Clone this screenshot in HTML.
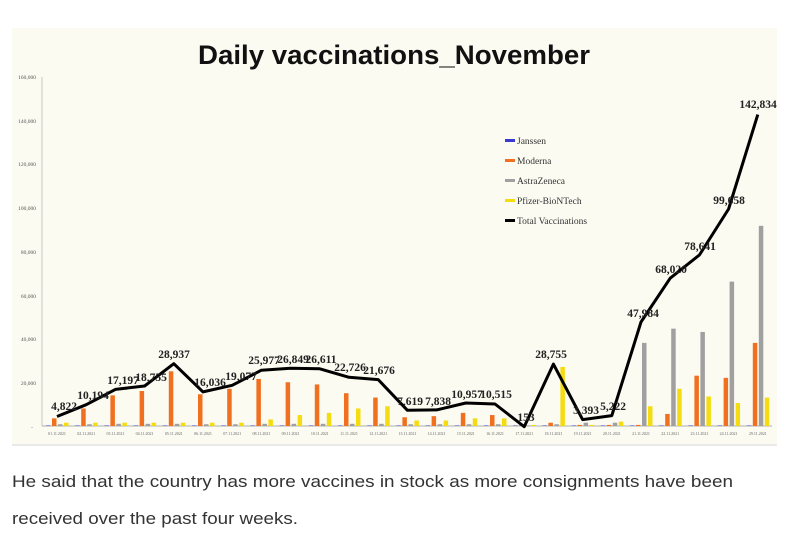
<!DOCTYPE html>
<html><head><meta charset="utf-8"><style>
html,body{margin:0;padding:0;background:#fff;width:800px;height:534px;overflow:hidden}
</style></head><body>
<svg id="s" width="800" height="534" viewBox="0 0 800 534" xmlns="http://www.w3.org/2000/svg">
<rect x="12" y="28" width="765" height="416" fill="#fbfbf2"/>
<line x1="12" y1="445" x2="777" y2="445" stroke="#e2e2e2" stroke-width="1.5"/>
<text x="394" y="64" text-anchor="middle" font-family="Liberation Sans, sans-serif" font-weight="bold" font-size="27" textLength="392" lengthAdjust="spacingAndGlyphs" fill="#111">Daily vaccinations_November</text>
<g font-family="Liberation Serif, serif" font-size="5.5" fill="#555" text-anchor="end">
<text x="36" y="79">160,000</text><text x="36" y="123">140,000</text><text x="36" y="166">120,000</text><text x="36" y="210">100,000</text><text x="36" y="254">80,000</text><text x="36" y="298">60,000</text><text x="36" y="341">40,000</text><text x="36" y="385">20,000</text><text x="33" y="429">-</text>
</g>
<line x1="42" y1="77" x2="42" y2="426" stroke="#bbb" stroke-width="0.8"/>
<line x1="42" y1="426" x2="772" y2="426" stroke="#999" stroke-width="0.8"/>
<g id="bars"></g>
<g id="dates" font-family="Liberation Serif, serif" font-size="4" fill="#666" text-anchor="middle"></g>
<polyline fill="none" stroke="#000" stroke-width="3" stroke-linejoin="round" points="57,416.5 86.2,404.7 115.4,389.4 144.6,386 173.8,363.7 203,391.9 232.2,385.3 261.4,370.2 290.6,368.3 319.8,368.8 349,377.3 378.2,379.6 407.4,410.3 436.6,409.9 465.8,403 495,404 524.2,426.7 553.4,364.1 582.6,419.6 611.8,415.6 641,322 670.2,278.2 699.4,255 728.6,209 757.8,114.6"/>
<g font-family="Liberation Serif, serif" font-weight="bold" font-size="11.5" fill="#222" text-anchor="middle">
<text x="64" y="410">4,822</text><text x="93" y="399">10,194</text><text x="123" y="384">17,197</text><text x="151" y="381">18,755</text><text x="174" y="358">28,937</text><text x="210" y="386">16,036</text><text x="241" y="380">19,077</text><text x="264" y="364">25,977</text><text x="293" y="363">26,849</text><text x="321" y="363">26,611</text><text x="350" y="371">22,726</text><text x="379" y="374">21,676</text><text x="410" y="405">7,619</text><text x="438" y="405">7,838</text><text x="467" y="398">10,957</text><text x="496" y="398">10,515</text><text x="526" y="421">153</text><text x="551" y="358">28,755</text><text x="586" y="414">3,393</text><text x="613" y="410">5,222</text><text x="643" y="317">47,984</text><text x="671" y="273">68,020</text><text x="700" y="250">78,641</text><text x="729" y="204">99,658</text><text x="758" y="108">142,834</text>
</g>
<g font-family="Liberation Serif, serif" font-size="9.5" fill="#333">
<rect x="505" y="139" width="10" height="3" fill="#3a3ad0"/><text x="517" y="144">Janssen</text>
<rect x="505" y="159" width="10" height="3" fill="#f07020"/><text x="517" y="164">Moderna</text>
<rect x="505" y="179" width="10" height="3" fill="#a0a0a0"/><text x="517" y="184">AstraZeneca</text>
<rect x="505" y="199" width="10" height="3" fill="#f5dc10"/><text x="517" y="204">Pfizer-BioNTech</text>
<rect x="505" y="219" width="10" height="3" fill="#000"/><text x="517" y="224">Total Vaccinations</text>
</g>
<text x="12" y="487" font-family="Liberation Sans, sans-serif" font-size="16.5" fill="#333" textLength="721" lengthAdjust="spacingAndGlyphs">He said that the country has more vaccines in stock as more consignments have been</text>
<text x="12" y="524" font-family="Liberation Sans, sans-serif" font-size="16.5" fill="#333" textLength="286" lengthAdjust="spacingAndGlyphs">received over the past four weeks.</text>
</svg>
<script>
var mo=[3500,8000,14000,16000,25000,14500,17000,21500,20000,19000,15000,13000,4000,4500,6000,5000,500,1500,500,500,500,5500,23000,22000,38000];
var az=[800,800,1000,1000,1000,800,800,1000,1000,1000,1000,1000,800,800,800,800,300,800,1500,1500,38000,44500,43000,66000,91500];
var pf=[1500,1500,1500,1500,1500,1500,1500,3000,5000,6000,8000,9000,2500,2500,3500,3500,500,27000,500,2000,9000,17000,13500,10500,13000];
var B=426,k=350/160000,g=document.getElementById('bars'),d=document.getElementById('dates'),ns='http://www.w3.org/2000/svg';
function r(x,v,c){var e=document.createElementNS(ns,'rect');var h=Math.max(v*k,0.5);e.setAttribute('x',x);e.setAttribute('y',B-h);e.setAttribute('width',4.5);e.setAttribute('height',h);e.setAttribute('fill',c);g.appendChild(e);}
for(var i=0;i<25;i++){var x=57+i*29.2;r(x-11,200,'#3a3ad0');r(x-5,mo[i],'#f07020');r(x+1,az[i],'#a0a0a0');r(x+7,pf[i],'#f5dc10');
var t=document.createElementNS(ns,'text');t.setAttribute('x',x);t.setAttribute('y',435);var dd=(i<24?i+1:29);t.textContent=(dd<10?'0':'')+dd+'.11.2021';d.appendChild(t);}
</script>
</body></html>
